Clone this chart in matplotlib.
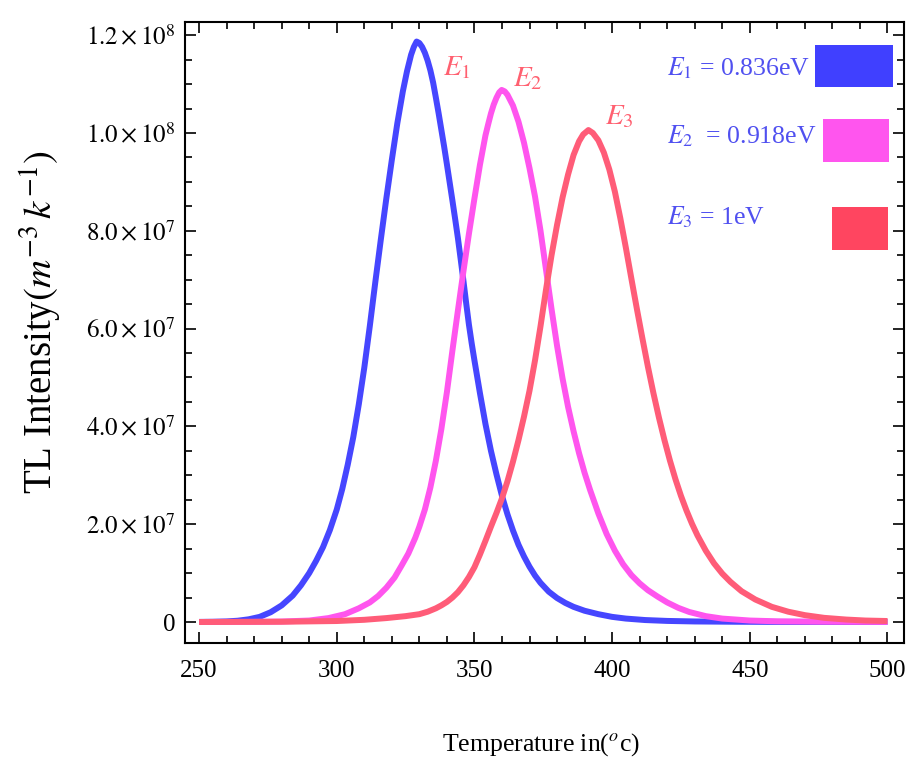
import numpy as np
import matplotlib
matplotlib.use("Agg")
import matplotlib.pyplot as plt
from matplotlib.ticker import MultipleLocator, FuncFormatter
from matplotlib.patches import Rectangle

plt.rcParams['font.family'] = ['Liberation Serif', 'DejaVu Serif']
plt.rcParams['mathtext.fontset'] = 'stix'

# ---- data (temperature in oC, TL intensity) ----
t_e1 = [250, 255, 260, 264, 268, 272, 276, 280, 284, 287, 290, 292.5, 295, 297.5, 300, 302,
        304, 306, 308, 310, 312, 314, 316, 318, 320, 322, 324, 325.5, 327, 328, 329,
        330, 331, 332, 333, 334, 335, 336, 337, 338, 339, 340, 341, 342, 343, 344, 345,
        346, 347, 348, 349, 350, 352, 354, 356, 358, 360, 362, 364, 366, 368, 370, 372,
        374, 377, 380, 383, 386, 390, 395, 400, 405, 412, 420, 430, 445, 460, 480, 500]
i_e1 = [2e4, 5e4, 1.2e5, 2.6e5, 5.5e5, 1.05e6, 2.0e6, 3.4e6, 5.4e6, 7.5e6, 1.0e7, 1.25e7, 1.53e7,
        1.88e7, 2.3e7, 2.72e7, 3.22e7, 3.78e7, 4.45e7, 5.2e7, 6.05e7, 6.95e7, 7.82e7, 8.66e7,
        9.45e7, 1.02e8, 1.085e8, 1.126e8, 1.16e8, 1.176e8, 1.187e8,
        1.184e8, 1.176e8, 1.164e8, 1.148e8, 1.128e8, 1.103e8, 1.072e8, 1.040e8, 1.006e8, 9.72e7,
        9.36e7, 8.99e7, 8.62e7, 8.24e7, 7.85e7, 7.42e7, 6.98e7, 6.52e7, 6.08e7, 5.7e7, 5.35e7,
        4.68e7, 4.05e7, 3.5e7, 3.02e7, 2.58e7, 2.2e7, 1.87e7, 1.58e7, 1.34e7, 1.13e7, 9.5e6,
        8.0e6, 6.2e6, 4.9e6, 3.9e6, 3.1e6, 2.3e6, 1.6e6, 1.05e6, 7e5, 4e5, 2.2e5, 1.1e5, 5e4,
        2e4, 1e4, 0]

t_e2 = [250, 270, 280, 290, 297, 303, 308, 312, 315, 318, 321, 323.5, 326, 328.5, 330, 332,
        334, 336, 338, 340, 342, 344, 346, 348, 350, 352, 354, 355, 356, 357, 358, 359,
        359.9, 361, 362, 364, 366, 368, 370, 372, 374, 376, 378, 380, 382, 384, 386, 388,
        390, 392, 395, 398, 401, 404, 407, 410, 413, 416.5, 420, 424, 428, 434, 440, 450,
        460, 475, 500]
i_e2 = [0, 3e4, 1e5, 3e5, 8e5, 1.6e6, 2.8e6, 4.0e6, 5.3e6, 7.0e6, 9.1e6, 1.15e7, 1.4e7, 1.72e7,
        1.95e7, 2.3e7, 2.75e7, 3.3e7, 3.95e7, 4.7e7, 5.55e7, 6.37e7, 7.17e7, 7.94e7, 8.66e7,
        9.35e7, 9.95e7, 1.018e8, 1.04e8, 1.058e8, 1.072e8, 1.083e8,
        1.088e8, 1.085e8, 1.078e8, 1.056e8, 1.023e8, 9.8e7, 9.28e7, 8.7e7, 8.0e7, 7.2e7, 6.4e7,
        5.65e7, 4.98e7, 4.4e7, 3.9e7, 3.45e7, 3.05e7, 2.7e7, 2.22e7, 1.8e7, 1.46e7, 1.18e7,
        9.6e6, 7.9e6, 6.5e6, 5.2e6, 4.0e6, 2.9e6, 2.05e6, 1.2e6, 7e5, 3e5, 1.4e5, 6e4, 1e4]

t_e3 = [250, 280, 300, 310, 318, 325, 330, 333, 336, 338, 340, 342, 344, 346, 348, 350, 352,
        354, 356, 358, 360, 362, 364, 366, 368, 370, 372, 374, 376, 378, 380, 382, 384, 386,
        388, 389.5, 391.4, 393, 395, 397, 399, 401, 403, 405, 407, 409, 411, 413, 415, 417,
        419, 421, 423, 425, 427, 429, 431, 434, 437, 440, 443, 447, 452, 458, 464, 470, 477,
        485, 492, 500]
i_e3 = [0, 5e4, 2e5, 4.5e5, 8e5, 1.2e6, 1.6e6, 2.1e6, 2.8e6, 3.4e6, 4.1e6, 5.0e6, 6.1e6, 7.5e6,
        9.2e6, 1.12e7, 1.38e7, 1.66e7, 1.95e7, 2.23e7, 2.53e7, 2.88e7, 3.28e7, 3.72e7, 4.2e7,
        4.73e7, 5.35e7, 6.05e7, 6.8e7, 7.5e7, 8.12e7, 8.68e7, 9.15e7, 9.55e7, 9.83e7, 9.97e7,
        1.006e8, 1.0e8, 9.85e7, 9.6e7, 9.25e7, 8.8e7, 8.25e7, 7.65e7, 7.02e7, 6.4e7, 5.8e7,
        5.22e7, 4.68e7, 4.18e7, 3.72e7, 3.3e7, 2.92e7, 2.58e7, 2.28e7, 2.01e7, 1.77e7, 1.46e7,
        1.2e7, 9.9e6, 8.2e6, 6.3e6, 4.6e6, 3.1e6, 2.1e6, 1.4e6, 8.5e5, 5e5, 3e5, 2e5]

legend_labels = [r"$E_1$ = 0.836eV", r"$E_2$  = 0.918eV", r"$E_3$ = 1eV"]
curve_labels = [r"$E_1$", r"$E_2$", r"$E_3$"]

line_colors = ['#4646FF', '#FF55EE', '#FF5C78']
rect_colors = ['#4040FF', '#FF55EE', '#FF4560']

fig = plt.figure(figsize=(9.07, 7.63), dpi=100)
ax = fig.add_axes([0.204, 0.1573, 0.7927, 0.8139])

for t, i, c in zip([t_e1, t_e2, t_e3], [i_e1, i_e2, i_e3], line_colors):
    ax.plot(t, i, color=c, lw=4.3, solid_capstyle='butt', solid_joinstyle='round')

ax.set_xlim(244.9, 506.0)
ax.set_ylim(-4.29e6, 1.227e8)

ax.xaxis.set_major_locator(MultipleLocator(50))
ax.xaxis.set_minor_locator(MultipleLocator(10))
ax.yaxis.set_major_locator(MultipleLocator(2e7))
ax.yaxis.set_minor_locator(MultipleLocator(5e6))

def yfmt(v, pos):
    if abs(v) < 1:
        return "0"
    e = int(np.floor(np.log10(abs(v)) + 1e-9))
    m = v / 10 ** e
    return r"$%.1f\times10^{%d}$" % (m, e)

ax.yaxis.set_major_formatter(FuncFormatter(yfmt))
ax.xaxis.set_major_formatter(FuncFormatter(lambda v, p: "%d" % v))

ax.tick_params(which='both', direction='in', top=True, right=True, labelsize=18, width=1.2)
ax.tick_params(which='major', length=8)
ax.tick_params(which='minor', length=5)
ax.tick_params(axis='x', pad=12)
ax.tick_params(axis='y', pad=7)
for s in ax.spines.values():
    s.set_linewidth(1.5)

ax.set_xlabel(r"Temperature in($^{o}$c)", fontsize=18.5)
ax.xaxis.set_label_coords(0.495, -0.163)
ax.xaxis.label.set_va('center')
ax.set_ylabel(r"TL Intensity$(m^{-3}\,k^{-1})$", fontsize=28)
ax.yaxis.set_label_coords(-0.2000, 0.517)
ax.yaxis.label.set_va('center')

# curve labels
lab_pos = [(338.6, 1.133e8), (364.0, 1.112e8), (397.4, 1.033e8)]
for (x, y), s in zip(lab_pos, curve_labels):
    ax.text(x, y, s, color='#FF6070', fontsize=21, ha='left', va='center')

# legend
leg_text_y = [0.925, 0.816, 0.685]
rects = [(0.876, 0.895, 0.109, 0.068), (0.887, 0.775, 0.092, 0.069), (0.900, 0.633, 0.078, 0.069)]
for ty, s, (rx, ry, rw, rh), c in zip(leg_text_y, legend_labels, rects, rect_colors):
    ax.text(0.670, ty, s, transform=ax.transAxes, color='#5050F0', fontsize=18.5,
            ha='left', va='center')
    ax.add_patch(Rectangle((rx, ry), rw, rh, transform=ax.transAxes, color=c, lw=0))

fig.savefig("out.png", dpi=100)
